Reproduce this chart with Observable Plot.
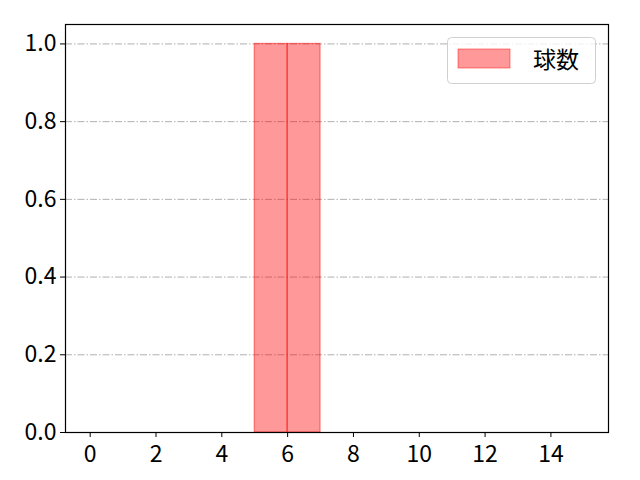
<!DOCTYPE html>
<html>
<head>
<meta charset="utf-8">
<script src="https://cdn.jsdelivr.net/npm/d3@7"></script>
<script src="https://cdn.jsdelivr.net/npm/@observablehq/plot@0.6"></script>
<style>
  html, body { margin: 0; padding: 0; background: #fff; }
  #chart { position: relative; width: 640px; height: 480px; }
</style>
</head>
<body>
<div id="chart"></div>
<script>
const binStart = [5, 6];
const binEnd = [6, 7];
const counts = [1, 1];
const xTicks = [0, 2, 4, 6, 8, 10, 12, 14];
const yTicks = [0.0, 0.2, 0.4, 0.6, 0.8, 1.0];
const seriesLabel = "球数";

const bars = binStart.map((s, i) => ({x1: s, x2: binEnd[i], y: counts[i]}));
const font = "'Noto Sans CJK JP', 'Noto Sans', sans-serif";

const plot = Plot.plot({
  width: 640,
  height: 480,
  marginLeft: 65,
  marginRight: 32,
  marginTop: 24,
  marginBottom: 48,
  style: {fontFamily: font, fontSize: "23px", color: "#000", background: "#fff"},
  x: {domain: [-0.75, 15.75], label: null},
  y: {domain: [0, 1.05], label: null},
  marks: [
    Plot.ruleY(yTicks, {stroke: "#b0b0b0", strokeWidth: 1, strokeDasharray: "7,2,1.5,2"}),
    Plot.rectY(bars, {x1: "x1", x2: "x2", y1: 0, y2: "y", fill: "red", fillOpacity: 0.4, stroke: "red", strokeOpacity: 0.45, strokeWidth: 1.2}),
    Plot.axisX({ticks: xTicks, tickFormat: d => String(d), tickSize: 5, tickPadding: 8, fontSize: 23, label: null}),
    Plot.axisY({ticks: yTicks, tickFormat: d => d.toFixed(1), tickSize: 5, tickPadding: 4, fontSize: 23, label: null}),
    Plot.frame({stroke: "#000", strokeWidth: 1.2})
  ]
});
document.getElementById("chart").appendChild(plot);

// legend
const svg = d3.select(plot);
const lg = svg.append("g").attr("transform", "translate(447,37)");
lg.append("rect").attr("x", 0.5).attr("y", 0.5).attr("width", 148).attr("height", 46).attr("rx", 4)
  .attr("fill", "#fff").attr("fill-opacity", 0.8).attr("stroke", "#d0d0d0");
lg.append("rect").attr("x", 11).attr("y", 12).attr("width", 52).attr("height", 19)
  .attr("fill", "red").attr("fill-opacity", 0.4).attr("stroke", "red").attr("stroke-opacity", 0.45);
lg.append("text").attr("x", 86).attr("y", 23).attr("dy", "0.35em").attr("text-anchor", "start")
  .attr("font-family", font).attr("font-size", 23).attr("fill", "#000").text(seriesLabel);
</script>
</body>
</html>
